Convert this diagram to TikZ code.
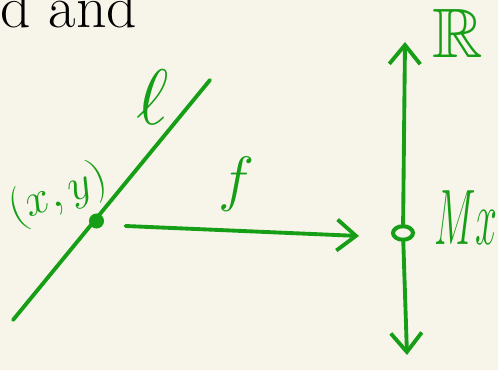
\documentclass[tikz,border=0pt]{standalone}
\usepackage{tikz}
\usetikzlibrary{arrows.meta, positioning, shapes.geometric}
\usepackage{amsmath}
\usepackage{amssymb}
\definecolor{pen}{RGB}{22,158,22}
\definecolor{paper}{RGB}{247,245,234}

\begin{document}
\begin{tikzpicture}[
    ink/.style={pen, line width=2.2pt, line cap=round},
    arrow/.style={ink, -{Straight Barb[length=0.38cm, width=0.62cm, line width=2.2pt]}},
    point/.style={circle, draw=pen, fill=pen, line width=1.7pt, inner sep=0pt, minimum size=0.24cm},
    openpoint/.style={ellipse, draw=pen, line width=2.3pt, inner sep=0pt, minimum width=0.4cm, minimum height=0.27cm},
    greentext/.style={text=pen, inner sep=0pt, font=\fontsize{24.88}{24.88}\selectfont}
]
\useasboundingbox (0,0) rectangle (9.96,7.4);
\clip (0,0) rectangle (9.96,7.4);
\fill[paper] (0,0) rectangle (9.96,7.4);

% Nodes
\coordinate (lstart) at (0.26,1.0);
\coordinate (lend) at (4.2,5.8);
\coordinate (top) at (8.1,6.56);
\coordinate (bottom) at (8.14,0.3);
\node (pt) [point] at (1.93,2.98) {};
\node (mx) [openpoint] at (8.06,2.74) {};
\node (heading) [anchor=base west, font=\fontsize{34}{34}\selectfont] at (-0.12,6.84) {d and};
\node (ell) [greentext] at (3.06,5.45) {\scalebox{1.8}{$\ell$}};
\node (xy) [greentext, rotate=20] at (1.16,3.5) {\scalebox{1.05}{$(x,y)$}};
\node (f) [greentext] at (4.74,3.72) {\scalebox{1.4}{$f$}};
\node (Mx) [greentext, anchor=west] at (8.68,3.04) {\scalebox{0.9}[1.8]{$Mx$}};
\node (R) [greentext] at (9.16,6.74) {\scalebox{1.6}{$\mathbb{R}$}};

% Arrows
\draw [ink] (lstart) -- (lend);
\draw [arrow] ([xshift=0.58cm,yshift=-0.1cm]pt.center) -- ([xshift=-0.88cm,yshift=-0.06cm]mx.center);
\draw [arrow] (mx) -- (top);
\draw [arrow] (mx) -- (bottom);

\end{tikzpicture}
\end{document}
